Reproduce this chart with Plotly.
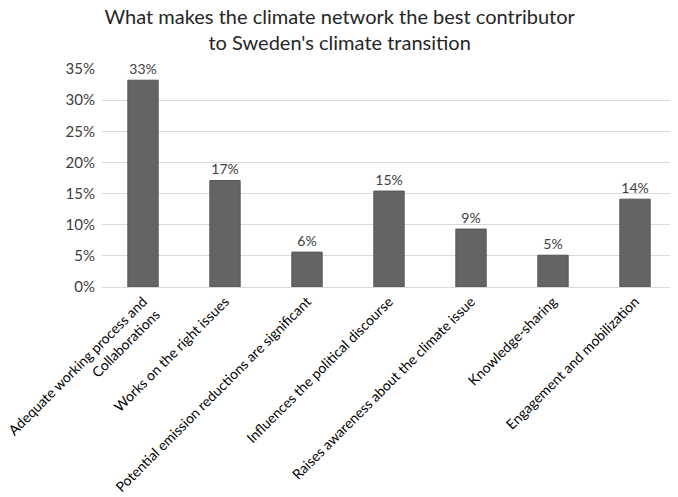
import plotly.graph_objects as go

categories = [
    "Adequate working process and<br>Collaborations",
    "Works on the right issues",
    "Potential emission reductions are significant",
    "Influences the political discourse",
    "Raises awareness about the climate issue",
    "Knowledge-sharing",
    "Engagement and mobilization",
]
values = [0.332, 0.171, 0.056, 0.154, 0.093, 0.051, 0.141]
value_labels = ["33%", "17%", "6%", "15%", "9%", "5%", "14%"]
y_ticks = [0, 0.05, 0.10, 0.15, 0.20, 0.25, 0.30, 0.35]
y_tick_labels = ["0%", "5%", "10%", "15%", "20%", "25%", "30%", "35%"]

font_family = "Lato, 'Open Sans', sans-serif"

fig = go.Figure(
    go.Bar(
        x=categories,
        y=values,
        text=value_labels,
        textposition="outside",
        textfont=dict(size=14, color="#404040", family=font_family),
        cliponaxis=False,
        marker=dict(color="#646464", line=dict(color="#555555", width=1)),
    )
)

fig.update_layout(
    width=670,
    height=489,
    paper_bgcolor="white",
    plot_bgcolor="white",
    margin=dict(l=94, r=2, t=61, b=210, autoexpand=False),
    bargap=0.63,
    showlegend=False,
    font=dict(family=font_family, color="#404040"),
    title=dict(
        text="What makes the climate network the best contributor<br>to Sweden's climate transition",
        x=0.495,
        xanchor="center",
        xref="container",
        y=0.968,
        yref="container",
        yanchor="top",
        font=dict(size=20, color="#262626", family=font_family),
    ),
    xaxis=dict(
        tickangle=-45,
        tickfont=dict(size=14, color="#000000", family=font_family),
        showline=True,
        linecolor="#d9d9d9",
        linewidth=1,
        ticks="",
        automargin=False,
    ),
    yaxis=dict(
        range=[0, 0.35],
        tickvals=y_ticks,
        ticktext=y_tick_labels,
        tickfont=dict(size=15, color="#404040", family=font_family),
        showgrid=True,
        gridcolor="#d9d9d9",
        gridwidth=1,
        zeroline=False,
        showline=False,
        ticks="",
        ticklabelstandoff=6,
        automargin=False,
    ),
)

fig.write_html("out.html")
